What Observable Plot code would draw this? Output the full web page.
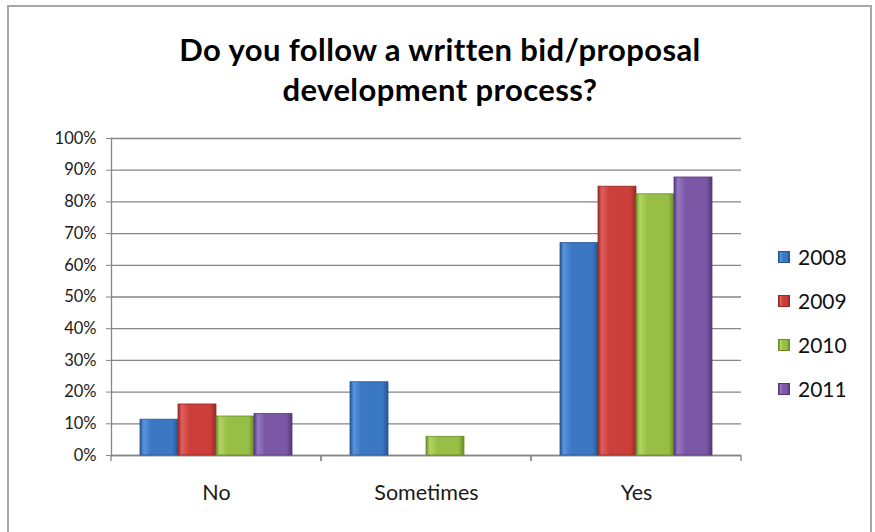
<!DOCTYPE html>
<html><head><meta charset="utf-8">
<script src="https://cdn.jsdelivr.net/npm/d3@7"></script>
<script src="https://cdn.jsdelivr.net/npm/@observablehq/plot@0.6"></script>
<style>
body{margin:0;background:#fff;}
#frame{position:relative;width:875px;height:532px;overflow:hidden;font-family:Lato,"Open Sans",sans-serif;background:#fff;}
#border{position:absolute;left:7px;top:5px;width:865px;height:540px;border:2px solid #a6a6a6;box-sizing:border-box;}
#title{position:absolute;left:0;width:880px;top:29px;text-align:center;font-weight:bold;font-size:31px;letter-spacing:0.4px;line-height:40px;color:#000;}
#plot{position:absolute;left:0;top:115px;}
#legend{position:absolute;left:778px;top:244px;font-size:21px;color:#111;}
.item{height:44px;display:flex;align-items:flex-start;}
.sw{width:12px;height:12px;margin-top:7px;margin-right:8px;box-sizing:border-box;}
</style></head>
<body>
<div id="frame">
  <div id="border"></div>
  <div id="title">Do you follow a written bid/proposal<br>development process?</div>
  <div id="plot"></div>
  <div id="legend"></div>
</div>
<script>
const categories = ["No", "Sometimes", "Yes"];
const years = ["2008", "2009", "2010", "2011"];
const v2008 = [11.3, 23.1, 67.0];
const v2009 = [16.1, null, 84.8];
const v2010 = [12.3, 5.9, 82.4];
const v2011 = [13.1, null, 87.7];
const yTicks = [0, 10, 20, 30, 40, 50, 60, 70, 80, 90, 100];
const baseColors = ["#3a78c4", "#cc3e3a", "#98bf45", "#7a58a6"];
const darkColors = ["#275593", "#962a27", "#6c8c2c", "#56397c"];
const lightColors = ["#5a94dc", "#e0605c", "#b2d464", "#9678c0"];

const series = [v2008, v2009, v2010, v2011];
const data = [];
years.forEach((yr, i) => categories.forEach((c, j) => {
  if (series[i][j] != null) data.push({category: c, year: yr, value: series[i][j]});
}));

const gradIds = years.map(y => "g" + y);

const defs = () => {
  const ns = "http://www.w3.org/2000/svg";
  const d = document.createElementNS(ns, "defs");
  years.forEach((y, i) => {
    const g = document.createElementNS(ns, "linearGradient");
    g.setAttribute("id", gradIds[i]);
    g.setAttribute("x1", "0"); g.setAttribute("x2", "1");
    g.setAttribute("y1", "0"); g.setAttribute("y2", "0");
    [[0, darkColors[i]], [0.1, lightColors[i]], [0.3, baseColors[i]], [0.85, baseColors[i]], [1, darkColors[i]]].forEach(([o, c]) => {
      const s = document.createElementNS(ns, "stop");
      s.setAttribute("offset", o);
      s.setAttribute("stop-color", c);
      g.appendChild(s);
    });
    d.appendChild(g);
  });
  return d;
};

// small tick marks at category boundaries below the x axis
const boundaryTicks = (index, scales) => {
  const ns = "http://www.w3.org/2000/svg";
  const g = document.createElementNS(ns, "g");
  const [x0, x1] = scales.x.range();
  const y0 = scales.y(0);
  [x0, x1].forEach(x => {
    const l = document.createElementNS(ns, "line");
    l.setAttribute("x1", x); l.setAttribute("x2", x);
    l.setAttribute("y1", y0); l.setAttribute("y2", y0 + 6);
    l.setAttribute("stroke", "#868686");
    l.setAttribute("stroke-width", 1.3);
    g.appendChild(l);
  });
  return g;
};

const chart = Plot.plot({
  width: 875,
  height: 400,
  marginLeft: 111,
  marginRight: 134,
  marginTop: 23,
  marginBottom: 60,
  style: {fontFamily: "Lato, 'Open Sans', sans-serif", fontSize: "16px", color: "#000", background: "transparent"},
  fx: {domain: categories, padding: 0, label: null},
  x: {domain: years, paddingInner: 0, paddingOuter: 0.76, axis: null},
  y: {domain: [0, 100], label: null},
  color: {domain: years, range: gradIds.map(id => `url(#${id})`)},
  marks: [
    defs,
    Plot.gridY(yTicks, {stroke: "#868686", strokeOpacity: 1, strokeWidth: 1.3}),
    Plot.axisY(yTicks, {tickSize: 5, tickPadding: 10, tickFormat: d => d + "%", stroke: "#868686", fontSize: 16.5, label: null, fill: "#1a1a1a"}),
    Plot.frame({anchor: "left", facetAnchor: "left", stroke: "#868686", strokeWidth: 1.3}),
    Plot.ruleY([0], {stroke: "#868686", strokeWidth: 1.3}),
    boundaryTicks,
    Plot.barY(data, {fx: "category", x: "year", y: "value", fill: "year", stroke: d => d.year, inset: 0}),
    Plot.axisFx({anchor: "bottom", tickSize: 0, tickPadding: 29, fontSize: 21.5, label: null, fill: "#1a1a1a"})
  ]
});
// darker bar outlines
chart.querySelectorAll("rect").forEach(r => {
  const s = r.getAttribute("stroke");
  if (s && s.startsWith("url(")) {
    const id = s.slice(5, -1);
    const i = gradIds.indexOf(id);
    if (i >= 0) { r.setAttribute("stroke", darkColors[i]); r.setAttribute("stroke-width", 0.8); }
  }
});
document.getElementById("plot").appendChild(chart);

const legend = document.getElementById("legend");
years.forEach((y, i) => {
  const item = document.createElement("div");
  item.className = "item";
  const sw = document.createElement("div");
  sw.className = "sw";
  sw.style.background = `linear-gradient(to right, ${darkColors[i]}, ${lightColors[i]} 15%, ${baseColors[i]} 40%, ${baseColors[i]} 80%, ${darkColors[i]})`;
  sw.style.border = `1px solid ${darkColors[i]}`;
  const t = document.createElement("span");
  t.textContent = y;
  item.appendChild(sw); item.appendChild(t);
  legend.appendChild(item);
});
</script>
</body></html>
